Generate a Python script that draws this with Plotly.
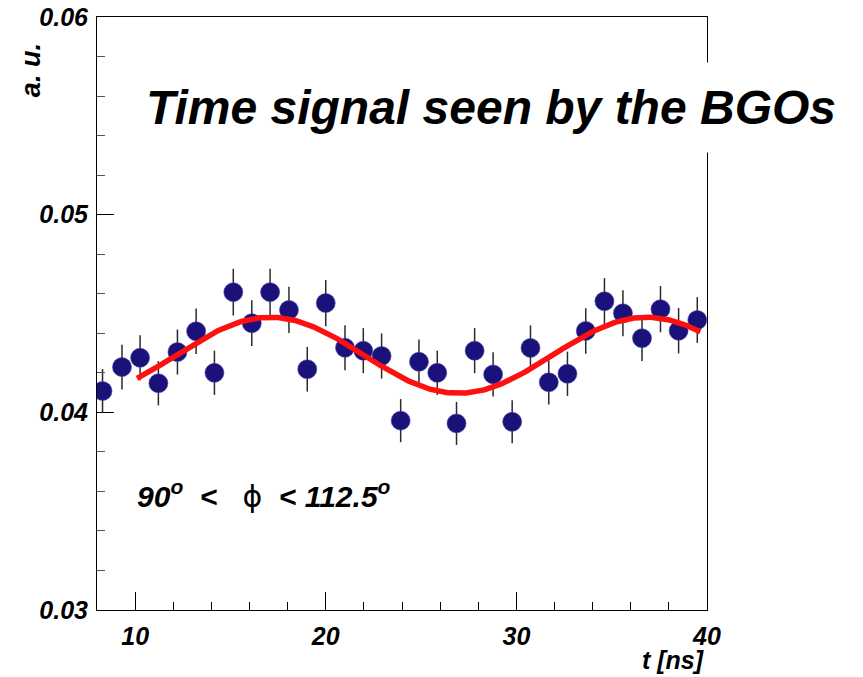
import plotly.graph_objects as go
import numpy as np

# Binned time spectrum (bin centres in ns) and normalised counts
t_ns = [8.29, 9.31, 10.26, 11.22, 12.22, 13.20, 14.16, 15.15, 16.12, 17.08,
        18.07, 19.03, 20.00, 21.01, 21.97, 22.93, 23.93, 24.89, 25.85, 26.86,
        27.81, 28.78, 29.78, 30.74, 31.70, 32.68, 33.64, 34.62, 35.59, 36.59,
        37.56, 38.51, 39.49]
signal = [0.04108, 0.04229, 0.04276, 0.04147, 0.04305, 0.04410, 0.04200, 0.04608,
          0.04451, 0.04608, 0.04518, 0.04218, 0.04553, 0.04327, 0.04312, 0.04285,
          0.03958, 0.04256, 0.04200, 0.03944, 0.04312, 0.04192, 0.03952, 0.04326,
          0.04152, 0.04195, 0.04412, 0.04562, 0.04501, 0.04375, 0.04522, 0.04413,
          0.04467]
signal_err = [0.00111, 0.00113, 0.00114, 0.00112, 0.00114, 0.00115, 0.00112, 0.00118,
              0.00116, 0.00118, 0.00117, 0.00113, 0.00117, 0.00114, 0.00114, 0.00114,
              0.00109, 0.00113, 0.00112, 0.00109, 0.00114, 0.00112, 0.00109, 0.00114,
              0.00112, 0.00112, 0.00115, 0.00117, 0.00116, 0.00115, 0.00117, 0.00115,
              0.00116]

# Fitted oscillation: offset + amplitude * cos(2*pi*(t - t_peak)/period)
fit_offset = 0.042886
fit_amplitude = 0.001924
fit_t_peak = 17.08
fit_period = 19.74
fit_range = (10.1, 39.65)

x_ticks = [10, 20, 30, 40]
y_ticks = [0.03, 0.04, 0.05, 0.06]
y_ticktext = ["0.03", "0.04", "0.05", "0.06"]

t_fit = np.linspace(fit_range[0], fit_range[1], 400)
y_fit = fit_offset + fit_amplitude * np.cos(2 * np.pi * (t_fit - fit_t_peak) / fit_period)

FONT = "Liberation Sans, Arial, Helvetica, sans-serif"

fig = go.Figure()
fig.add_trace(go.Scatter(
    x=t_ns, y=signal, mode="markers",
    marker=dict(size=19, color="#1b117a", line=dict(width=0.6, color="#4a43a0")),
    error_y=dict(type="data", array=signal_err, width=0, thickness=1.5, color="#2a2a2a"),
    showlegend=False,
))
fig.add_trace(go.Scatter(
    x=t_fit, y=y_fit, mode="lines",
    line=dict(color="#ff1010", width=5.5),
    showlegend=False,
))

axis_font = dict(family=FONT, size=25, color="black", weight="bold", style="italic")

fig.update_xaxes(
    range=[8, 40], tickmode="array", tickvals=x_ticks, ticktext=[str(v) for v in x_ticks],
    ticks="inside", ticklen=18, tickwidth=1, tickcolor="black",
    minor=dict(tickmode="linear", tick0=0, dtick=2, ticks="inside", ticklen=8,
               tickwidth=1, tickcolor="black"),
    showline=True, linecolor="black", linewidth=1, mirror=True, automargin=False,
    showgrid=False, zeroline=False, tickfont=axis_font, ticklabelstandoff=4,
)
fig.update_yaxes(
    range=[0.03, 0.06], tickmode="array", tickvals=y_ticks, ticktext=y_ticktext,
    ticks="inside", ticklen=17, tickwidth=1, tickcolor="black",
    minor=dict(tickmode="linear", tick0=0, dtick=0.002, ticks="inside", ticklen=8,
               tickwidth=1, tickcolor="#555555"),
    showline=True, linecolor="black", linewidth=1, mirror=True, automargin=False,
    showgrid=False, zeroline=False, tickfont=axis_font, ticklabelstandoff=3,
)

# Title in a white pave box
fig.add_annotation(
    text="Time signal seen by the BGOs", xref="paper", yref="paper",
    x=0.6467, y=0.848, xanchor="center", yanchor="middle", showarrow=False,
    font=dict(family=FONT, size=48, color="black", weight="bold", style="italic"),
    bgcolor="white", borderpad=18,
)
# Axis titles
fig.add_annotation(
    text="a. u.", xref="paper", yref="paper", x=-0.108, y=0.9106,
    xanchor="center", yanchor="middle", textangle=-90, showarrow=False,
    font=dict(family=FONT, size=27, color="black", weight="bold", style="italic"),
)
fig.add_annotation(
    text="t [ns]", xref="paper", yref="paper", x=1.0, y=-0.0843,
    xanchor="right", yanchor="middle", showarrow=False,
    font=dict(family=FONT, size=25, color="black", weight="bold", style="italic"),
)
# Angular range label
fig.add_annotation(
    text=("<b><i>90<sup>o</sup>\u00a0\u00a0&lt;\u00a0\u00a0\u00a0</i></b>"
          "<span style='font-family:DejaVu Sans'>\u03d5</span>"
          "<b><i>\u00a0\u00a0&lt;\u00a0112.5<sup>o</sup></i></b>"),
    xref="paper", yref="paper", x=0.0623, y=0.194, xanchor="left", yanchor="middle",
    showarrow=False, font=dict(family=FONT, size=30, color="black"),
)

fig.update_layout(
    width=863, height=677, autosize=False,
    margin=dict(l=97, r=156, t=17, b=67),
    paper_bgcolor="white", plot_bgcolor="white",
)

fig.write_html("out.html")
